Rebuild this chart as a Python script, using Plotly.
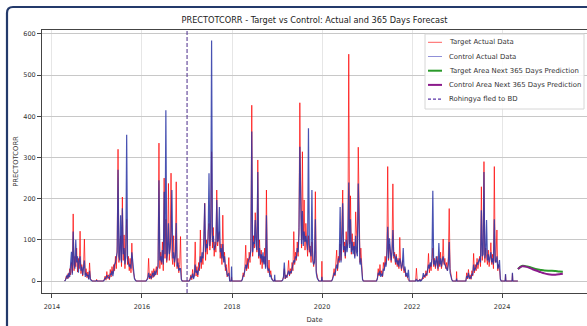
import pandas as pd
import plotly.graph_objects as go

# ---------------- data ----------------
STEP_DAYS = 7  # spacing of the readings inside each rainy season

season_start = ["2014-04-20", "2015-03-01", "2016-02-10", "2017-01-25", "2018-03-25",
                "2019-02-15", "2020-03-25", "2021-03-25", "2022-02-05", "2023-03-20"]

target_2014 = [3, 12, 5, 18, 8, 30, 15, 45, 20, 163, 25, 60, 35, 80, 22, 55, 30, 121, 18, 40,
               12, 35, 102, 15, 30, 8, 22, 5, 44, 6, 2]
control_2014 = [2, 8, 15, 6, 20, 10, 35, 71, 15, 120, 40, 30, 100, 45, 60, 20, 48, 60, 25, 35,
                15, 28, 50, 10, 20, 12, 15, 4, 25, 3, 1]

target_2015 = [4, 12, 2, 23, 6, 15, 3, 28, 10, 35, 18, 40, 25, 60, 30, 85, 320, 45, 70, 110,
               35, 204, 50, 112, 30, 75, 150, 40, 60, 25, 55, 20, 92, 30, 15, 8, 3]
control_2015 = [2, 8, 5, 14, 10, 8, 6, 18, 15, 25, 12, 30, 40, 45, 55, 70, 270, 60, 50, 160,
                45, 177, 65, 80, 40, 60, 355, 55, 45, 35, 40, 30, 70, 44, 20, 6, 2]

target_2016 = [3, 10, 55, 5, 18, 4, 25, 8, 30, 12, 20, 35, 15, 45, 335, 30, 70, 40, 95, 25,
               250, 55, 150, 45, 80, 237, 50, 90, 262, 60, 40, 110, 35, 65, 241, 30, 55, 20, 40,
               108, 5]
control_2016 = [2, 6, 20, 8, 12, 6, 15, 20, 10, 25, 15, 28, 30, 35, 245, 50, 60, 45, 75, 40,
                217, 65, 415, 50, 70, 140, 65, 80, 120, 221, 55, 70, 45, 60, 141, 35, 45, 25, 30,
                30, 3]

target_2017 = [5, 15, 3, 28, 8, 20, 95, 12, 35, 10, 45, 25, 124, 30, 60, 40, 85, 189, 50, 100,
               65, 120, 140, 75, 110, 314, 80, 130, 60, 95, 70, 221, 85, 110, 120, 55, 90, 40,
               160, 50, 70, 25, 40, 10, 20, 57]
control_2017 = [3, 10, 8, 18, 5, 12, 40, 20, 25, 15, 30, 35, 60, 45, 70, 55, 100, 189, 70, 90,
                80, 105, 262, 85, 120, 584, 95, 110, 75, 85, 90, 197, 95, 100, 180, 70, 80, 55,
                90, 45, 60, 35, 30, 15, 12, 20]

target_2018 = [5, 20, 10, 35, 87, 25, 55, 30, 70, 45, 90, 427, 60, 110, 80, 166, 95, 70, 294,
               55, 100, 40, 75, 30, 60, 45, 80, 35, 221, 40, 20, 51, 15, 25, 8, 3]
control_2018 = [3, 12, 15, 25, 40, 30, 45, 50, 55, 60, 75, 363, 70, 95, 90, 148, 85, 75, 265,
                60, 80, 55, 65, 45, 70, 40, 60, 30, 160, 35, 25, 30, 10, 15, 5, 2]

target_2019 = [3, 10, 30, 5, 15, 8, 22, 50, 12, 30, 18, 45, 25, 120, 40, 70, 50, 95, 60, 130,
               433, 221, 80, 314, 100, 197, 75, 140, 90, 60, 110, 70, 85, 45, 95, 60, 35, 55,
               217, 25, 12, 4]
control_2019 = [2, 8, 45, 6, 12, 10, 18, 25, 15, 22, 20, 30, 35, 50, 45, 60, 55, 80, 70, 115,
                326, 150, 90, 170, 85, 120, 95, 110, 80, 75, 371, 90, 70, 60, 221, 50, 40, 45,
                150, 20, 8, 3]

target_2020 = [5, 15, 30, 12, 40, 75, 25, 60, 45, 90, 50, 110, 221, 70, 95, 55, 120, 80, 100,
               551, 90, 207, 65, 115, 75, 95, 60, 168, 85, 70, 325, 95, 45, 80, 20, 5]
control_2020 = [3, 10, 20, 15, 35, 40, 30, 55, 50, 180, 45, 90, 189, 75, 85, 60, 100, 70, 90,
                239, 80, 150, 70, 95, 65, 85, 55, 110, 70, 60, 237, 80, 40, 55, 15, 3]

target_2021 = [8, 30, 12, 40, 15, 25, 10, 45, 30, 60, 40, 75, 278, 50, 90, 60, 45, 80, 236,
               55, 70, 40, 65, 35, 55, 30, 106, 40, 25, 50, 35, 20, 30, 10, 15, 5, 2]
control_2021 = [5, 20, 15, 25, 10, 18, 12, 30, 25, 45, 35, 60, 132, 55, 104, 65, 50, 70, 124,
                60, 65, 45, 60, 40, 50, 35, 55, 45, 30, 40, 80, 25, 35, 12, 20, 8, 27]

target_2022 = [31, 0, 2, 0, 5, 0, 3, 8, 5, 15, 8, 25, 12, 30, 67, 20, 40, 25, 50, 80, 35, 55,
               30, 45, 60, 25, 50, 35, 70, 30, 45, 102, 40, 55, 30, 45, 25, 60, 176, 30, 12, 4]
control_2022 = [5, 0, 1, 0, 3, 0, 2, 6, 19, 10, 12, 18, 15, 25, 40, 30, 45, 35, 55, 219, 40,
                50, 35, 60, 45, 30, 92, 40, 55, 35, 50, 60, 45, 40, 35, 30, 25, 40, 95, 20, 8, 3]

target_2023 = [20, 5, 28, 8, 15, 4, 25, 12, 67, 20, 40, 25, 55, 30, 45, 60, 35, 229, 50, 70,
               290, 45, 80, 60, 40, 75, 35, 55, 93, 40, 65, 30, 278, 45, 60, 124, 25, 40, 30, 5]
control_2023 = [12, 8, 20, 5, 10, 6, 18, 15, 40, 25, 30, 35, 45, 40, 50, 55, 45, 172, 60, 65,
                265, 55, 70, 148, 50, 65, 45, 60, 70, 45, 55, 40, 150, 50, 45, 60, 30, 35, 51, 4]

# isolated dry-season readings (and the last observed day)
blip_dates = ["2014-12-29", "2017-12-28", "2018-12-13", "2019-12-31", "2022-12-28",
              "2024-01-29", "2024-03-25", "2024-05-08"]
blip_target = [4, 10, 4, 48, 23, 15, 18, 0]
blip_control = [2, 35, 15, 10, 6, 17, 20, 0]

# 365-day forecast (monthly readings of the smooth curves)
forecast_dates = ["2024-05-09", "2024-06-09", "2024-07-09", "2024-08-09", "2024-09-09",
                  "2024-10-09", "2024-11-09", "2024-12-09", "2025-01-09", "2025-02-09",
                  "2025-03-09", "2025-04-09", "2025-05-08"]
forecast_target = [29, 36.5, 36, 34, 31, 28.5, 27, 25.8, 25.2, 25, 24.2, 23, 22.5]
forecast_control = [29, 35.5, 35, 32, 28, 25, 21.5, 18.5, 16.5, 15.5, 15.5, 16.5, 17.8]

event_date = "2017-01-01"
event_label = "Rohingya fled to BD"

x_tick_years = [2014, 2016, 2018, 2020, 2022, 2024]
y_ticks = [0, 100, 200, 300, 400, 500, 600]

target_seasons = [target_2014, target_2015, target_2016, target_2017, target_2018,
                  target_2019, target_2020, target_2021, target_2022, target_2023]
control_seasons = [control_2014, control_2015, control_2016, control_2017, control_2018,
                   control_2019, control_2020, control_2021, control_2022, control_2023]


def build_series(seasons, blip_vals):
    step = pd.Timedelta(days=STEP_DAYS)
    frames = []
    for start, vals in zip(season_start, seasons):
        s = pd.Timestamp(start)
        d = [s - step] + [s + i * step for i in range(len(vals))] + [s + len(vals) * step]
        v = [0] + list(vals) + [0]
        frames.append(pd.DataFrame({"date": d, "value": v}))
    for ds, val in zip(blip_dates, blip_vals):
        t = pd.Timestamp(ds)
        if val == 0:
            frames.append(pd.DataFrame({"date": [t], "value": [0]}))
        else:
            frames.append(pd.DataFrame({"date": [t - pd.Timedelta(days=3), t, t + pd.Timedelta(days=3)],
                                        "value": [0, val, 0]}))
    df = pd.concat(frames).sort_values("date").reset_index(drop=True)
    return df


tdf = build_series(target_seasons, blip_target)
cdf = build_series(control_seasons, blip_control)

# ---------------- figure ----------------
FONT = "DejaVu Sans"
W, H = 587, 326
L, R, T, B = 42, 0, 30, 33
PW, PH = W - L - R, H - T - B


def px(x):
    return (x - L) / PW


def py(y):
    return (H - B - y) / PH


fig = go.Figure()
fig.add_trace(go.Scatter(x=tdf["date"], y=tdf["value"], mode="lines",
                         line=dict(color="rgba(255,0,0,0.7)", width=1.0),
                         name="Target Actual Data", showlegend=False))
fig.add_trace(go.Scatter(x=cdf["date"], y=cdf["value"], mode="lines",
                         line=dict(color="rgba(40,52,165,0.85)", width=1.2),
                         name="Control Actual Data", showlegend=False))
fig.add_trace(go.Scatter(x=pd.to_datetime(forecast_dates), y=forecast_target, mode="lines",
                         line=dict(color="#2a9a2a", width=2, shape="spline"),
                         name="Target Area Next 365 Days Prediction", showlegend=False))
fig.add_trace(go.Scatter(x=pd.to_datetime(forecast_dates), y=forecast_control, mode="lines",
                         line=dict(color="#8b1a8b", width=2, shape="spline"),
                         name="Control Area Next 365 Days Prediction", showlegend=False))

shapes = []
# event line
shapes.append(dict(type="line", xref="x", yref="paper", x0=event_date, x1=event_date, y0=0, y1=1,
                   line=dict(color="#4b2a8a", width=1, dash="4px,2px")))

# legend (drawn manually to match the compact matplotlib legend)
legend_items = [("Target Actual Data", "rgba(255,40,40,0.75)", 1, "solid"),
                ("Control Actual Data", "rgba(70,70,190,0.6)", 1, "solid"),
                ("Target Area Next 365 Days Prediction", "#2a9a2a", 2, "solid"),
                ("Control Area Next 365 Days Prediction", "#8b1a8b", 2, "solid"),
                (event_label, "#5a35a8", 1.2, "3px,2px")]
shapes.append(dict(type="rect", xref="paper", yref="paper", x0=px(425), x1=px(584),
                   y0=py(109), y1=py(34), line=dict(color="#d6d6d6", width=1),
                   fillcolor="rgba(255,255,255,0.85)", layer="above"))
annotations = []
for i, (lab, col, wid, dash) in enumerate(legend_items):
    yc = 42.3 + i * 14.2
    shapes.append(dict(type="line", xref="paper", yref="paper", x0=px(428), x1=px(442),
                       y0=py(yc), y1=py(yc), line=dict(color=col, width=wid, dash=dash),
                       layer="above"))
    annotations.append(dict(text=lab, xref="paper", yref="paper", x=px(447), y=py(yc),
                            xanchor="left", yanchor="middle", showarrow=False,
                            font=dict(family=FONT, size=6.9, color="#333")))

# card frame (top and left navy border)
fx, fy = 7, 7
frame_path = (f"M {px(fx)},{py(H + 2)} L {px(fx)},{py(fy + 6)} "
              f"Q {px(fx)},{py(fy)} {px(fx + 6)},{py(fy)} L {px(W + 2)},{py(fy)}")
shapes.append(dict(type="path", xref="paper", yref="paper", path=frame_path,
                   line=dict(color="#243a6b", width=2.2), layer="above"))

fig.update_layout(
    width=W, height=H,
    margin=dict(l=L, r=R, t=T, b=B),
    paper_bgcolor="white", plot_bgcolor="white",
    font=dict(family=FONT, color="#333"),
    title=dict(text="PRECTOTCORR - Target vs Control: Actual and 365 Days Forecast",
               x=314.5 / W, xref="container", xanchor="center",
               y=1 - 20 / H, yref="container", yanchor="middle",
               font=dict(family=FONT, size=8.2, color="#222")),
    shapes=shapes, annotations=annotations, showlegend=False,
    xaxis=dict(type="date", range=["2013-10-12", "2025-11-20"],
               tickvals=[f"{y}-01-01" for y in x_tick_years],
               ticktext=[str(y) for y in x_tick_years],
               showgrid=True, gridcolor="#e6e6e6", gridwidth=1,
               showline=True, linecolor="#444", linewidth=1, mirror=True,
               ticks="outside", ticklen=4, tickcolor="#444", ticklabelstandoff=3,
               tickfont=dict(family=FONT, size=6.5, color="#333"),
               title=dict(text="Date", font=dict(family=FONT, size=6.8, color="#333"), standoff=7),
               automargin=False, zeroline=False),
    yaxis=dict(range=[-29.1, 609.7], tickvals=y_ticks,
               showgrid=True, gridcolor="#c8c8c8", gridwidth=1,
               showline=True, linecolor="#444", linewidth=1,
               ticks="outside", ticklen=4, tickcolor="#444",
               tickfont=dict(family=FONT, size=6.5, color="#333"),
               title=dict(text="PRECTOTCORR", font=dict(family=FONT, size=6.8, color="#333"), standoff=3),
               automargin=False, zeroline=False),
)

fig.write_html("out.html")
